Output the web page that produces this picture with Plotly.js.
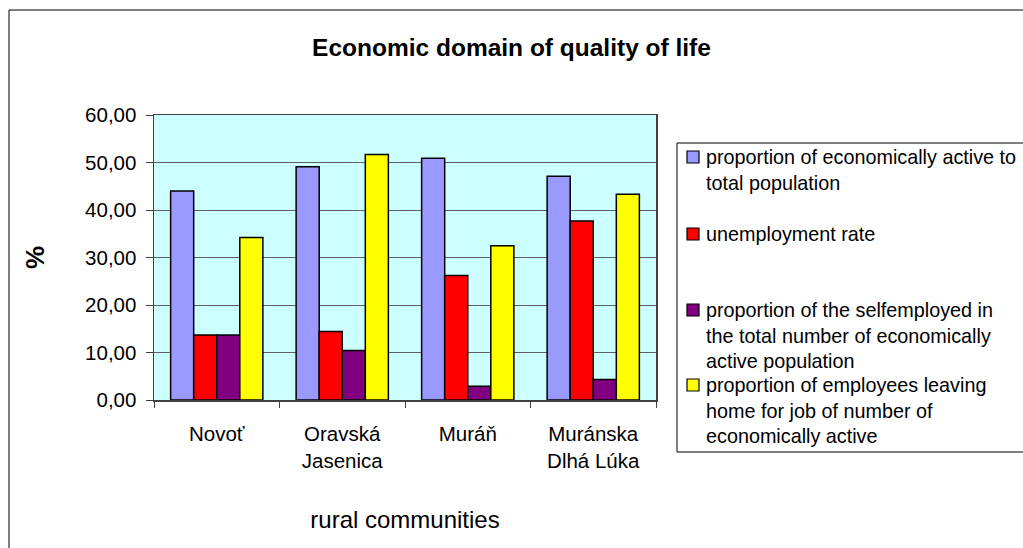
<!DOCTYPE html>
<html>
<head>
<meta charset="utf-8">
<script src="https://cdn.plot.ly/plotly-3.0.1.min.js"></script>
<style>html,body{margin:0;padding:0;background:#fff;}#chart{width:1023px;height:548px;}</style>
</head>
<body>
<div id="chart"></div>
<script>
const categories = ["Novoť", "Oravská<br>Jasenica", "Muráň", "Muránska<br>Dlhá Lúka"];
const seriesNames = [
  "proportion of economically active to<br>total population",
  "unemployment rate",
  "proportion of the selfemployed in<br>the total number of economically<br>active population",
  "proportion of employees leaving<br>home for job of number of<br>economically active"
];
const economicallyActive = [44.0, 49.1, 50.9, 47.1];
const unemploymentRate = [13.7, 14.4, 26.2, 37.7];
const selfEmployed = [13.7, 10.4, 2.9, 4.3];
const leavingHome = [34.2, 51.7, 32.5, 43.3];
const yTicks = [0, 10, 20, 30, 40, 50, 60];

const colors = ["#9999FF", "#FF0000", "#800080", "#FFFF00"];
const values = [economicallyActive, unemploymentRate, selfEmployed, leavingHome];
const FONT = "Liberation Sans, Arial, sans-serif";

const traces = values.map((v, i) => ({
  type: "bar",
  x: categories,
  y: v,
  name: seriesNames[i],
  marker: {color: colors[i], line: {color: "#000000", width: 1.5}},
  hoverinfo: "y"
}));

// plot area in pixels
const L = 154, R = 656, T = 115, B = 400;
const px = x => (x - L) / (R - L);
const py = y => (B - y) / (B - T);

const shapes = [
  {type: "rect", xref: "paper", yref: "paper", x0: px(9), x1: px(1040), y0: py(10), y1: py(560),
   line: {color: "#000000", width: 1}, fillcolor: "rgba(0,0,0,0)", layer: "below"},
  {type: "rect", xref: "paper", yref: "paper", x0: px(677), x1: px(1040), y0: py(143), y1: py(452),
   line: {color: "#000000", width: 1}, fillcolor: "rgba(0,0,0,0)"}
];
const annotations = [];
const legendLineY = [157, 234, 310, 385];
seriesNames.forEach((n, i) => {
  const c = legendLineY[i];
  shapes.push({type: "rect", xref: "paper", yref: "paper", x0: px(687), x1: px(699), y0: py(c - 6), y1: py(c + 6),
    fillcolor: colors[i], line: {color: "#000000", width: 1.2}});
  annotations.push({xref: "paper", yref: "paper", x: px(704), y: py(c - 13), xanchor: "left", yanchor: "top",
    align: "left", showarrow: false, text: n, font: {family: FONT, size: 19.8, color: "#000"}});
});

const layout = {
  width: 1023, height: 548,
  margin: {l: L, r: 1023 - R, t: T, b: 548 - B, pad: 0},
  paper_bgcolor: "#FFFFFF",
  plot_bgcolor: "#CCFFFF",
  separators: ", ",
  showlegend: false,
  bargap: 0.265,
  bargroupgap: 0,
  barmode: "group",
  font: {family: FONT, size: 20, color: "#000"},
  title: {text: "<b>Economic domain of quality of life</b>", x: 0.5, xref: "container", xanchor: "center",
          y: 1 - 47 / 548, yref: "container", yanchor: "middle", font: {family: FONT, size: 24.5, color: "#000"}},
  xaxis: {
    type: "category",
    showline: true, linecolor: "#404040", linewidth: 1.5, mirror: true,
    ticks: "outside", ticklen: 6, tickcolor: "#404040", tickson: "boundaries",
    showgrid: false,
    ticklabelstandoff: 15,
    tickfont: {family: FONT, size: 20.5, color: "#000"},
    title: {text: "rural communities", standoff: 40, font: {family: FONT, size: 24, color: "#000"}}
  },
  yaxis: {
    range: [0, 60],
    tickvals: yTicks,
    tickformat: ".2f",
    showline: true, linecolor: "#404040", linewidth: 1.5, mirror: true,
    ticks: "outside", ticklen: 7, tickcolor: "#404040",
    ticklabelstandoff: 5,
    showgrid: true, gridcolor: "#606060", gridwidth: 1,
    zeroline: false,
    tickfont: {family: FONT, size: 20.5, color: "#000"},
    title: {text: "<b>%</b>", standoff: 33, font: {family: FONT, size: 26, color: "#000"}}
  },
  shapes: shapes,
  annotations: annotations
};

Plotly.newPlot("chart", traces, layout, {displayModeBar: false, staticPlot: true});
</script>
</body>
</html>
